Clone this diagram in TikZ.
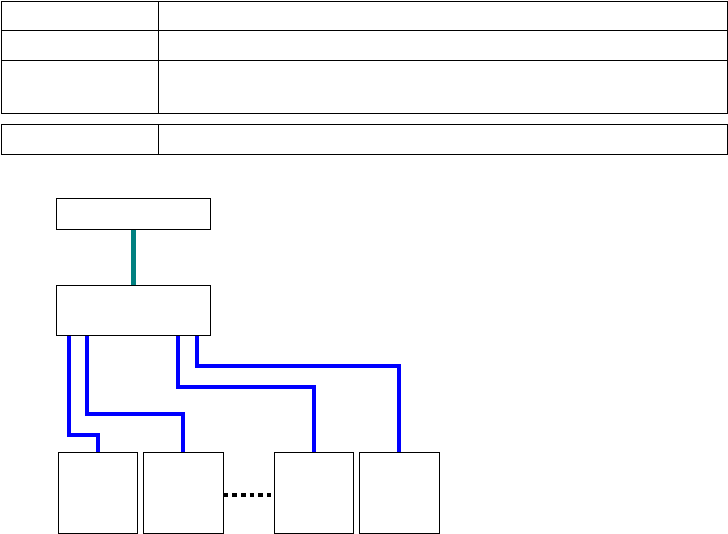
\documentclass[tikz,border=0pt]{standalone}
\begin{document}
\begin{tikzpicture}[x=1pt, y=-1pt,
  cell/.style={draw, line width=0.9pt, rectangle, inner sep=0pt},
  blk/.style={draw, line width=1pt, rectangle, inner sep=0pt},
  bus/.style={draw=blue, line width=4pt},
  lnk/.style={draw={rgb,255:red,0;green,128;blue,128}, line width=5pt},
  dots/.style={line width=4pt, dash pattern=on 4.6pt off 4pt}
]
\useasboundingbox (0,0) rectangle (728,534);
\node[cell, minimum width=157pt, minimum height=29pt] (r1l) at (79.5, 15.5)  {};
\node[cell, minimum width=569pt, minimum height=29pt] (r1r) at (442.5, 15.5) {};
\node[cell, minimum width=157pt, minimum height=30pt] (r2l) at (79.5, 45)    {};
\node[cell, minimum width=569pt, minimum height=30pt] (r2r) at (442.5, 45)   {};
\node[cell, minimum width=157pt, minimum height=53pt] (r3l) at (79.5, 86.5)  {};
\node[cell, minimum width=569pt, minimum height=53pt] (r3r) at (442.5, 86.5) {};
\node[cell, minimum width=157pt, minimum height=30pt] (r4l) at (79.5, 139)   {};
\node[cell, minimum width=569pt, minimum height=30pt] (r4r) at (442.5, 139)  {};
\node[blk, minimum width=154pt, minimum height=31pt] (top) at (133, 213.8) {};
\node[blk, minimum width=154pt, minimum height=50pt] (hub) at (133, 310.3) {};
\node[blk, minimum width=79pt, minimum height=81pt]  (a)   at (97.8, 492.8)  {};
\node[blk, minimum width=80pt, minimum height=81pt]  (b)   at (183.3, 492.8) {};
\node[blk, minimum width=79pt, minimum height=81pt]  (c)   at (313.8, 492.8) {};
\node[blk, minimum width=80pt, minimum height=81pt]  (d)   at (399.3, 492.8) {};
\draw[lnk] (top) -- (hub);
\draw[bus] ([xshift=13pt]hub.south west)  |- ([yshift=17pt]a.north) -- (a.north);
\draw[bus] ([xshift=31pt]hub.south west)  |- ([yshift=38pt]b.north) -- (b.north);
\draw[bus] ([xshift=122pt]hub.south west) |- ([yshift=65pt]c.north) -- (c.north);
\draw[bus] ([xshift=141pt]hub.south west) |- ([yshift=86pt]d.north) -- (d.north);
\draw[dots] (b.east |- 0,494.7) -- (c.west |- 0,494.7);
\end{tikzpicture}
\end{document}
